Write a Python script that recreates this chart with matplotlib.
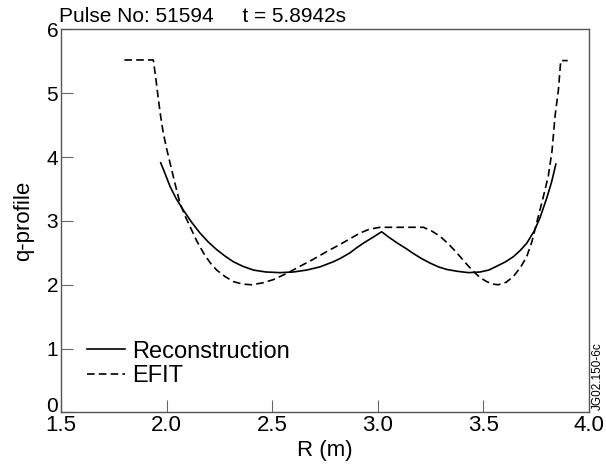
import matplotlib
matplotlib.use("Agg")
import matplotlib.pyplot as plt
from matplotlib.transforms import ScaledTranslation

plt.rcParams["font.family"] = ["Liberation Sans", "DejaVu Sans"]
plt.rcParams["lines.scale_dashes"] = False

# Reconstruction q-profile (solid)
recon_r = [1.972, 1.995, 2.016, 2.045, 2.079, 2.118, 2.158, 2.197, 2.237, 2.276,
           2.316, 2.360, 2.411, 2.470, 2.537, 2.600, 2.663, 2.726, 2.789, 2.821,
           2.868, 2.900, 2.931, 2.975, 3.018, 3.050, 3.089, 3.137, 3.168, 3.207,
           3.247, 3.287, 3.326, 3.378, 3.429, 3.484, 3.525, 3.563, 3.605, 3.642,
           3.675, 3.705, 3.740, 3.768, 3.800, 3.822, 3.843]
recon_q = [3.91, 3.72, 3.54, 3.35, 3.17, 2.98, 2.81, 2.67, 2.55, 2.45,
           2.36, 2.29, 2.23, 2.20, 2.19, 2.20, 2.23, 2.28, 2.36, 2.41,
           2.50, 2.58, 2.65, 2.74, 2.83, 2.75, 2.66, 2.56, 2.49, 2.41,
           2.34, 2.28, 2.24, 2.21, 2.19, 2.20, 2.23, 2.29, 2.36, 2.44,
           2.54, 2.65, 2.84, 3.05, 3.36, 3.60, 3.89]

# EFIT q-profile (dashed)
efit_r = [1.80, 1.937, 1.950, 1.961, 1.972, 1.984, 2.000, 2.016, 2.040, 2.063,
          2.087, 2.111, 2.142, 2.174, 2.205, 2.237, 2.276, 2.316, 2.360, 2.403,
          2.455, 2.505, 2.570, 2.632, 2.695, 2.758, 2.815, 2.868, 2.916, 2.960,
          3.010, 3.110, 3.216, 3.256, 3.294, 3.334, 3.374, 3.413, 3.452, 3.485,
          3.515, 3.545, 3.571, 3.608, 3.642, 3.675, 3.705, 3.730, 3.752, 3.780,
          3.807, 3.825, 3.839, 3.855, 3.866, 3.899]
efit_q = [5.52, 5.52, 5.20, 4.90, 4.63, 4.38, 4.13, 3.91, 3.58, 3.28,
          3.08, 2.91, 2.69, 2.50, 2.35, 2.23, 2.13, 2.05, 2.01, 2.00,
          2.03, 2.08, 2.18, 2.29, 2.40, 2.52, 2.62, 2.72, 2.81, 2.87,
          2.90, 2.90, 2.90, 2.84, 2.76, 2.64, 2.50, 2.35, 2.21, 2.11,
          2.05, 2.01, 2.00, 2.04, 2.13, 2.27, 2.44, 2.68, 2.97, 3.33,
          3.70, 4.10, 4.64, 5.05, 5.51, 5.51]

x_ticks = [1.5, 2.0, 2.5, 3.0, 3.5, 4.0]
y_ticks = [0, 1, 2, 3, 4, 5, 6]

fig = plt.figure(figsize=(6.06, 4.68), dpi=100)
ax = fig.add_axes([0.1007, 0.1186, 0.8713, 0.8188])

ax.plot(recon_r, recon_q, color="black", lw=1.2, label="Reconstruction")
ax.plot(efit_r, efit_q, color="black", lw=1.2, dashes=(5.5, 3.0), label="EFIT")

ax.set_xlim(1.5, 4.0)
ax.set_ylim(0, 6)
ax.set_xticks(x_ticks)
ax.set_xticklabels([f"{v:.1f}" for v in x_ticks], fontsize=16)
ax.set_yticks(y_ticks)
ax.set_yticklabels([str(v) for v in y_ticks], fontsize=15)
ax.tick_params(direction="in", length=8.5, width=0.8, color="#666666")
ax.tick_params(axis="y", pad=2)
ax.tick_params(axis="x", pad=2)
for sp in ax.spines.values():
    sp.set_color("#555555")
    sp.set_linewidth(1.0)

# the "0" sits just above the x tick labels in the original
ylab0 = ax.get_yticklabels()[0]
ylab0.set_transform(ylab0.get_transform() + ScaledTranslation(0, 8 / 100, fig.dpi_scale_trans))

ax.set_xlabel("R (m)", fontsize=16, labelpad=3)
ax.set_ylabel("q-profile", fontsize=16, labelpad=9)

ax.legend(loc="lower left", bbox_to_anchor=(0.005, 0.005), frameon=False, fontsize=17,
          handlelength=1.6, handletextpad=0.3, labelspacing=0.1, borderaxespad=0.6)

fig.text(0.098, 0.945, "Pulse No: 51594     t = 5.8942s", fontsize=15,
         ha="left", va="bottom")
fig.text(0.987, 0.125, "JG02.150-6c", fontsize=8.5, rotation=90,
         ha="center", va="bottom")

fig.savefig("out.png", dpi=100)
